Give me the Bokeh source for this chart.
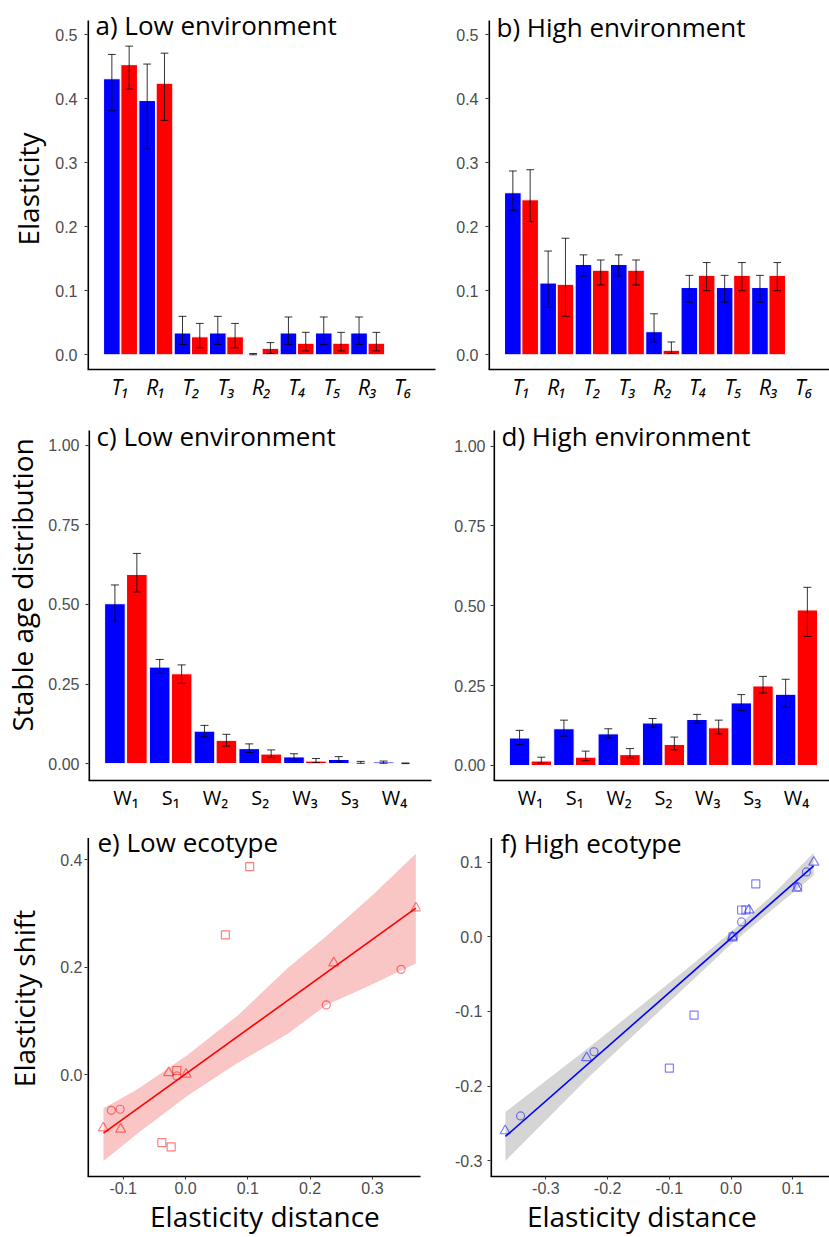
import math
from bokeh.plotting import figure
from bokeh.layouts import column, row
from bokeh.models import Range1d, FixedTicker, NumeralTickFormatter, Label
from bokeh.embed import file_html
from bokeh.resources import INLINE

NAN = float("nan")
NB = "\u00a0"

# ---------------- data: elasticities (panels a, b) ----------------
elast_labels = ["T₁", "R₁", "T₂", "T₃", "R₂", "T₄", "T₅", "R₃", "T₆"]

a_blue = [0.431, 0.397, 0.034, 0.034, 0.001, 0.034, 0.034, 0.034, NAN]
a_blue_lo = [0.381, 0.321, 0.016, 0.016, 0.000, 0.016, 0.016, 0.016, NAN]
a_blue_hi = [0.469, 0.454, 0.060, 0.060, 0.002, 0.059, 0.059, 0.059, NAN]
a_red = [0.453, 0.424, 0.028, 0.028, 0.010, 0.018, 0.018, 0.018, NAN]
a_red_lo = [0.415, 0.366, 0.011, 0.011, 0.002, 0.006, 0.006, 0.006, NAN]
a_red_hi = [0.482, 0.471, 0.049, 0.049, 0.019, 0.035, 0.035, 0.035, NAN]

b_blue = [0.253, 0.112, 0.141, 0.141, 0.036, 0.105, 0.105, 0.105, NAN]
b_blue_lo = [0.225, 0.074, 0.123, 0.123, 0.020, 0.082, 0.082, 0.082, NAN]
b_blue_hi = [0.287, 0.162, 0.156, 0.156, 0.064, 0.124, 0.124, 0.124, NAN]
b_red = [0.242, 0.110, 0.132, 0.132, 0.007, 0.124, 0.124, 0.124, NAN]
b_red_lo = [0.208, 0.060, 0.109, 0.109, 0.002, 0.100, 0.100, 0.100, NAN]
b_red_hi = [0.289, 0.182, 0.148, 0.148, 0.020, 0.144, 0.144, 0.144, NAN]

# ---------------- data: stable age distribution (panels c, d) ----------------
age_labels = ["W₁", "S₁", "W₂", "S₂", "W₃", "S₃", "W₄"]

c_blue = [0.502, 0.303, 0.102, 0.047, 0.021, 0.013, 0.005]
c_blue_lo = [0.447, 0.284, 0.084, 0.035, 0.012, 0.005, 0.001]
c_blue_hi = [0.561, 0.327, 0.120, 0.062, 0.031, 0.022, 0.008]
c_red = [0.594, 0.282, 0.073, 0.030, 0.008, 0.003, 0.001]
c_red_lo = [0.539, 0.252, 0.055, 0.019, 0.003, 0.001, 0.000]
c_red_hi = [0.660, 0.310, 0.092, 0.043, 0.016, 0.007, 0.002]

d_blue = [0.086, 0.115, 0.099, 0.133, 0.144, 0.196, 0.223]
d_blue_lo = [0.065, 0.092, 0.086, 0.120, 0.133, 0.172, 0.183]
d_blue_hi = [0.110, 0.142, 0.115, 0.147, 0.160, 0.222, 0.270]
d_red = [0.014, 0.026, 0.034, 0.066, 0.118, 0.249, 0.487]
d_red_lo = [0.007, 0.015, 0.024, 0.049, 0.099, 0.227, 0.404]
d_red_hi = [0.026, 0.045, 0.053, 0.089, 0.142, 0.279, 0.558]

# ---------------- data: elasticity shift vs distance (panels e, f) ----------------
e_sq_x = [0.103, 0.064, -0.014, -0.038, -0.023]
e_sq_y = [0.387, 0.260, 0.008, -0.126, -0.134]
e_ci_x = [-0.119, -0.105, -0.014, 0.226, 0.346]
e_ci_y = [-0.066, -0.064, -0.002, 0.130, 0.196]
e_tr_x = [-0.132, -0.104, -0.027, 0.001, 0.238, 0.370]
e_tr_y = [-0.099, -0.101, 0.004, 0.001, 0.208, 0.310]
e_fit_x = [-0.1316, 0.3697]
e_fit_y = [-0.1085, 0.3097]
e_band_x = [-0.1316, -0.0770, 0.0032, 0.0835, 0.1637, 0.2263, 0.2975, 0.3697]
e_band_hi = [-0.062, -0.027, 0.037, 0.110, 0.198, 0.258, 0.331, 0.411]
e_band_lo = [-0.160, -0.109, -0.039, 0.022, 0.076, 0.130, 0.167, 0.207]

f_sq_x = [0.040, 0.017, 0.024, -0.060, -0.100, 0.003]
f_sq_y = [0.071, 0.036, 0.036, -0.105, -0.176, 0.000]
f_ci_x = [-0.341, -0.222, 0.017, 0.108, 0.122]
f_ci_y = [-0.240, -0.154, 0.020, 0.067, 0.087]
f_tr_x = [-0.366, -0.234, 0.002, 0.029, 0.107, 0.134]
f_tr_y = [-0.260, -0.162, 0.000, 0.036, 0.065, 0.100]
f_fit_x = [-0.3655, 0.1337]
f_fit_y = [-0.2675, 0.0953]
f_band_x = [-0.3655, -0.2287, -0.0676, 0.0021, 0.0666, 0.1337]
f_band_hi = [-0.2347, -0.1473, -0.0402, 0.0079, 0.0559, 0.1128]
f_band_lo = [-0.3003, -0.1866, -0.0621, -0.0083, 0.0363, 0.0822]

BLUE = "#0000FF"
RED = "#FF0000"
TITLE_FONT = "Open Sans"
TICK_FONT = "Liberation Sans"


def make_fig(w, h, bl, br, bt, bb, xr, yr, ext):
    # ext: extra px of frame above the drawn y-axis line (room for panel titles)
    frame_h = h - bt - bb
    ppu = frame_h / (yr[1] - yr[0])
    yr_ext = (yr[0], yr[1] + ext / ppu)
    p = figure(width=w, height=h, x_range=Range1d(*xr), y_range=Range1d(*yr_ext),
               min_border_left=bl, min_border_right=br, min_border_top=bt - ext,
               min_border_bottom=bb, output_backend="svg", toolbar_location=None,
               tools="")
    p.outline_line_color = None
    p.xgrid.grid_line_color = None
    p.ygrid.grid_line_color = None
    p.background_fill_color = "white"
    p.border_fill_color = "white"
    for ax in (p.xaxis[0], p.yaxis[0]):
        ax.axis_line_color = "black"
        ax.axis_line_width = 1.6
        ax.minor_tick_line_color = None
        ax.major_tick_in = 0
        ax.major_tick_out = 3
        ax.major_tick_line_color = "#333333"
        ax.major_label_text_font = TICK_FONT
        ax.major_label_text_font_size = "16px"
        ax.major_label_text_color = "#4D4D4D"
        ax.axis_label_text_font = TITLE_FONT
        ax.axis_label_text_font_size = "28px"
        ax.axis_label_text_font_style = "normal"
        ax.axis_label_text_color = "black"
    # y-axis line drawn only over the original panel height
    p.yaxis[0].axis_line_color = None
    p.segment(x0=[xr[0]], y0=[yr[0]], x1=[xr[0]], y1=[yr[1]],
              line_color="black", line_width=3.2)
    return p


def panel_title(p, text, xr, yr, dx, dy):
    p.add_layout(Label(x=xr[0], y=yr[1], x_offset=dx, y_offset=-dy, text=text,
                       text_font=TITLE_FONT, text_font_size="26px",
                       text_color="black", text_align="left",
                       text_baseline="alphabetic"))


def bar_panel(p, labels, vb, lob, hib, vr, lor, hir, off, width, cap, italic):
    n = len(labels)
    xs = list(range(1, n + 1))
    xb = [x - off for x in xs]
    xrr = [x + off for x in xs]
    p.vbar(x=xb, top=vb, bottom=0, width=width, fill_color=BLUE,
           line_color="white", line_width=1)
    p.vbar(x=xrr, top=vr, bottom=0, width=width, fill_color=RED,
           line_color="white", line_width=1)
    for xx, lo, hi in ((xb, lob, hib), (xrr, lor, hir)):
        p.segment(x0=xx, y0=lo, x1=xx, y1=hi, line_color="black",
                  line_width=1, line_alpha=0.8)
        x0 = [x - cap for x in xx]
        x1 = [x + cap for x in xx]
        p.segment(x0=x0, y0=hi, x1=x1, y1=hi, line_color="black",
                  line_width=1, line_alpha=0.8)
        p.segment(x0=x0, y0=lo, x1=x1, y1=lo, line_color="black",
                  line_width=1, line_alpha=0.8)
    ax = p.xaxis[0]
    ax.ticker = FixedTicker(ticks=xs)
    ax.major_label_overrides = {x: lab for x, lab in zip(xs, labels)}
    ax.major_tick_out = 0
    ax.major_label_text_font = TITLE_FONT
    ax.major_label_text_font_size = "21px"
    ax.major_label_text_color = "black"
    ax.major_label_text_font_style = "italic" if italic else "normal"
    ax.major_label_standoff = 3


def scatter_panel(p, color, band_fill, bx, blo, bhi, fx, fy, sqx, sqy, cix, ciy, trx, try_):
    p.varea(x=bx, y1=blo, y2=bhi, fill_color=band_fill, fill_alpha=1.0)
    p.line(x=fx, y=fy, line_color=color, line_width=1.6)
    p.scatter(x=sqx, y=sqy, marker="square", size=8, fill_color=None,
              line_color=color, line_alpha=0.5, line_width=1.2)
    p.scatter(x=cix, y=ciy, marker="circle", size=8, fill_color=None,
              line_color=color, line_alpha=0.5, line_width=1.2)
    p.scatter(x=trx, y=try_, marker="triangle", size=10, fill_color=None,
              line_color=color, line_alpha=0.5, line_width=1.2)


LW, RW = 451, 378

# ---- row 1 ----
a_xr, a_yr = (0.065, 9.92), (-0.023, 0.522)
pa = make_fig(LW, 415, 87, 16, 20, 46, a_xr, a_yr, 12)
bar_panel(pa, elast_labels, a_blue, a_blue_lo, a_blue_hi, a_red, a_red_lo, a_red_hi,
          0.245, 0.47, 0.11, True)
pa.yaxis[0].ticker = FixedTicker(ticks=[0, 0.1, 0.2, 0.3, 0.4, 0.5])
pa.yaxis[0].formatter = NumeralTickFormatter(format="0.0")
pa.yaxis[0].major_label_standoff = 7
pa.yaxis[0].axis_label = "Elasticity"
pa.yaxis[0].axis_label_standoff = 5
panel_title(pa, "a) Low environment", a_xr, a_yr, 8, 4)

b_xr, b_yr = (0.065, 9.725), (-0.023, 0.522)
pb = make_fig(RW, 415, 37, 0, 20, 46, b_xr, b_yr, 12)
bar_panel(pb, elast_labels, b_blue, b_blue_lo, b_blue_hi, b_red, b_red_lo, b_red_hi,
          0.245, 0.47, 0.11, True)
pb.yaxis[0].ticker = FixedTicker(ticks=[0, 0.1, 0.2, 0.3, 0.4, 0.5])
pb.yaxis[0].formatter = NumeralTickFormatter(format="0.0")
pb.yaxis[0].major_label_standoff = 7
panel_title(pb, "b) High environment", b_xr, b_yr, 8, 6)

# ---- row 2 ----
c_xr, c_yr = (0.165, 7.826), (-0.053, 1.046)
pc = make_fig(LW, 405, 87, 20, 15, 40, c_xr, c_yr, 12)
bar_panel(pc, age_labels, c_blue, c_blue_lo, c_blue_hi, c_red, c_red_lo, c_red_hi,
          0.245, 0.46, 0.09, False)
pc.yaxis[0].ticker = FixedTicker(ticks=[0, 0.25, 0.5, 0.75, 1.0])
pc.yaxis[0].formatter = NumeralTickFormatter(format="0.00")
pc.yaxis[0].major_label_standoff = 6
pc.yaxis[0].axis_label = NB * 4 + "Stable age distribution"
pc.yaxis[0].axis_label_standoff = 4
pc.xaxis[0].major_label_text_font_size = "20px"
panel_title(pc, "c) Low environment", c_xr, c_yr, 8, 5)

d_xr, d_yr = (0.167, 7.744), (-0.047, 1.049)
pd_ = make_fig(RW, 405, 37, 0, 15, 40, d_xr, d_yr, 12)
bar_panel(pd_, age_labels, d_blue, d_blue_lo, d_blue_hi, d_red, d_red_lo, d_red_hi,
          0.245, 0.46, 0.09, False)
pd_.yaxis[0].ticker = FixedTicker(ticks=[0, 0.25, 0.5, 0.75, 1.0])
pd_.yaxis[0].formatter = NumeralTickFormatter(format="0.00")
pd_.yaxis[0].major_label_standoff = 5
pd_.xaxis[0].major_label_text_font_size = "20px"
panel_title(pd_, "d) High environment", d_xr, d_yr, 8, 5)

# ---- row 3 ----
e_xr, e_yr = (-0.1573, 0.3772), (-0.189, 0.44)
pe = make_fig(LW, 417, 87, 31, 18, 53, e_xr, e_yr, 18)
scatter_panel(pe, RED, "#F9C5C5", e_band_x, e_band_lo, e_band_hi, e_fit_x, e_fit_y,
              e_sq_x, e_sq_y, e_ci_x, e_ci_y, e_tr_x, e_tr_y)
pe.xaxis[0].ticker = FixedTicker(ticks=[-0.1, 0.0, 0.1, 0.2, 0.3])
pe.xaxis[0].formatter = NumeralTickFormatter(format="0.0")
pe.yaxis[0].ticker = FixedTicker(ticks=[0.0, 0.2, 0.4])
pe.yaxis[0].formatter = NumeralTickFormatter(format="0.0")
pe.xaxis[0].major_label_standoff = 2
pe.yaxis[0].major_label_standoff = 2
pe.yaxis[0].axis_label = "Elasticity shift"
pe.yaxis[0].axis_label_standoff = 14
pe.xaxis[0].axis_label = NB * 3 + "Elasticity distance"
pe.xaxis[0].axis_label_standoff = 0
panel_title(pe, "e) Low ecotype", e_xr, e_yr, 10, 4)

f_xr, f_yr = (-0.3897, 0.1594), (-0.3212, 0.1324)
pf = make_fig(RW, 417, 37, 0, 18, 53, f_xr, f_yr, 18)
scatter_panel(pf, BLUE, "#D5D5D5", f_band_x, f_band_lo, f_band_hi, f_fit_x, f_fit_y,
              f_sq_x, f_sq_y, f_ci_x, f_ci_y, f_tr_x, f_tr_y)
pf.xaxis[0].ticker = FixedTicker(ticks=[-0.3, -0.2, -0.1, 0.0, 0.1])
pf.xaxis[0].formatter = NumeralTickFormatter(format="0.0")
pf.yaxis[0].ticker = FixedTicker(ticks=[-0.3, -0.2, -0.1, 0.0, 0.1])
pf.yaxis[0].formatter = NumeralTickFormatter(format="0.0")
pf.xaxis[0].major_label_standoff = 2
pf.yaxis[0].major_label_standoff = 5
pf.xaxis[0].axis_label = "Elasticity distance" + NB * 5
pf.xaxis[0].axis_label_standoff = 0
panel_title(pf, "f) High ecotype", f_xr, f_yr, 10, 5)

layout = column(row(pa, pb), row(pc, pd_), row(pe, pf))

open("out.html", "w").write(file_html(layout, INLINE))
